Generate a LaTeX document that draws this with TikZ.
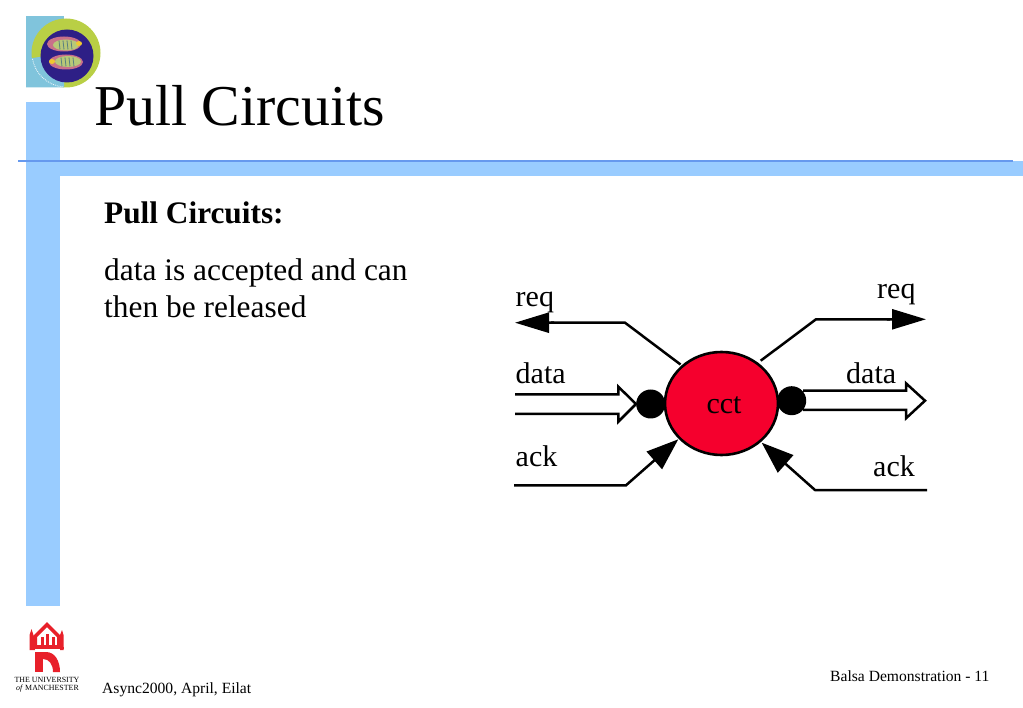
\documentclass[tikz,border=0pt]{standalone}
\usepackage{fontspec}
\setmainfont{Liberation Serif}
\usetikzlibrary{arrows.meta,shapes.geometric}
\definecolor{barblue}{HTML}{99CCFF}
\definecolor{rule}{HTML}{6699EE}
\definecolor{cctred}{HTML}{F5002D}
\definecolor{tealb}{HTML}{80C4DC}
\definecolor{ringg}{HTML}{B9CF45}
\definecolor{discb}{HTML}{2E1F86}
\definecolor{mred}{HTML}{E8202A}
\definecolor{fishg}{HTML}{B8C878}
\definecolor{fishp}{HTML}{C8708A}
\definecolor{fishy}{HTML}{F0C830}
\tikzset{
  x=1pt,y=-1pt,
  wire/.style={draw=black,line width=2.5pt,line join=miter},
  headtip/.style={-{Butt Cap[sep=2pt] Triangle[length=34pt,width=20pt]}},
  headtipack/.style={-{Triangle[length=32pt,width=23pt]}},
  lab/.style={font=\fontsize{30}{30}\selectfont,inner sep=0pt,anchor=base west},
  body/.style={font=\fontsize{31.4}{32}\selectfont,inner sep=0pt,anchor=base west},
  dot/.style={circle,fill=black,inner sep=0pt,minimum size=29pt},
  foot/.style={font=\fontsize{15.6}{16}\selectfont,inner sep=0pt,anchor=base west},
  univ/.style={font=\fontsize{7.9}{8}\selectfont,inner sep=0pt,anchor=base},
}
\begin{document}
\begin{tikzpicture}
\useasboundingbox (0,0) rectangle (1023,708);
\fill[white] (0,0) rectangle (1023,708);
% template bars
\fill[barblue] (26,102) rectangle (60,606);
\fill[barblue] (26,161) rectangle (1023,176);
\draw[rule,line width=1.3pt] (18,161) -- (1013,161);
% Eilat logo
\fill[tealb] (26,16) rectangle (64,87);
\fill[ringg] (66,53) circle (34.5);
\fill[tealb] (66,53) -- (26,59) -- (26,87.5) -- (64,87.5) -- (64,53) -- cycle;
\draw[white!85!tealb,line width=.9pt,densely dotted] (66,53) ++(170:34) arc[start angle=170,end angle=95,radius=34];
\fill[discb] (67,56) circle (26.5);
\fill[fishp] (64,44) ellipse (17 and 7.5);
\fill[fishp] (66,62) ellipse (17 and 7.5);
\fill[fishg] (66,45) ellipse (13 and 5.5);
\fill[fishg] (68,61.5) ellipse (13 and 5.5);
\foreach \sx in {59,63,67,71}{
  \draw[gray!70!teal,line width=.8pt] (\sx,40.5) -- (\sx+1,49.5);
  \draw[gray!70!teal,line width=.8pt] (\sx+2,57.5) -- (\sx+3,66.5);
}
\fill[fishy] (79,43.5) ellipse (3 and 2.5);
\fill[fishy] (52,61.5) ellipse (3 and 2.5);
% Title and text
\node[font=\fontsize{57.8}{58}\selectfont,inner sep=0pt,anchor=base west] (title) at (94,125.5) {Pull Circuits};
\node[body,font=\fontsize{29}{30}\selectfont\bfseries] (head) at (104,224) {\fontsize{31.3}{32}\selectfont Pull Circuits:};
\node[body] (l1) at (104,280.5) {data is accepted and can};
\node[body] (l2) at (104,318) {then be released};
% diagram
\node[ellipse,draw=black,line width=2.6pt,fill=cctred,minimum width=113pt,minimum height=103pt,inner sep=0pt] (cct) at (721.5,403.5) {};
\node[lab,anchor=base] (cctlab) at (724,413.5) {cct};
\coordinate (reqLa) at (625,322.7); \coordinate (reqLb) at (515,322.7);
\coordinate (reqRa) at (816,319.3); \coordinate (reqRb) at (926,319.3);
\coordinate (ackLa) at (514,485.3); \coordinate (ackLb) at (626,485.3);
\coordinate (ackRa) at (927,490); \coordinate (ackRb) at (815,490);
\coordinate (ackLend) at (678.3,439.3); \coordinate (ackRend) at (761.7,442.7);
\coordinate (reqLst) at (680.5,364.5); \coordinate (reqRst) at (760.7,360.7);
\draw[wire,headtip] (reqLst) -- (reqLa) -- (reqLb);
\draw[wire,headtip] (reqRst) -- (reqRa) -- (reqRb);
\draw[wire,headtipack] (ackLa) -- (ackLb) -- (ackLend);
\draw[wire,headtipack] (ackRa) -- (ackRb) -- (ackRend);
\node[dot] (dotL) at (650.7,404) {};
\node[dot] (dotR) at (791.7,400.7) {};
\coordinate (dLa) at (515,394.3); \coordinate (dLb) at (618.3,394.3); \coordinate (dLc) at (618.3,386.7);
\coordinate (dLd) at (618.3,421.7); \coordinate (dLe) at (618.3,414); \coordinate (dLf) at (515,414);
\draw[wire] (dLa) -- (dLb) -- (dLc) -- (dotL.west) -- (dLd) -- (dLe) -- (dLf);
\coordinate (dRa) at (803,390.7); \coordinate (dRb) at (906,390.7); \coordinate (dRc) at (906,383.3); \coordinate (dRtip) at (925,400.7);
\coordinate (dRd) at (906,418.3); \coordinate (dRe) at (906,410); \coordinate (dRf) at (803,410);
\draw[wire] (dRa) -- (dRb) -- (dRc) -- (dRtip) -- (dRd) -- (dRe) -- (dRf);
\node[lab] (t1) at (515.5,306.5) {req};
\node[lab] (t2) at (877,298.5) {req};
\node[lab] (t3) at (515.5,384) {data};
\node[lab] (t4) at (846,384) {data};
\node[lab] (t5) at (515.5,467) {ack};
\node[lab] (t6) at (873,476.5) {ack};
% Manchester logo
\fill[mred,even odd rule] (47,622) -- (61,636) -- (61,647) -- (33,647) -- (33,636) -- cycle
  (47,627) -- (37,637) -- (37,645) -- (57,645) -- (57,637) -- cycle;
\fill[mred] (40.5,637) rectangle (43.5,646);
\fill[mred] (45.5,634) rectangle (48.5,646);
\fill[mred] (51.5,637) rectangle (54.5,646);
\fill[mred] (29.5,635) -- (31.5,629) -- (33.5,635) -- (35,650) -- (29.5,650) -- cycle;
\fill[mred] (60,635) -- (62,630) -- (63.5,635) -- (63.5,650) -- (60,650) -- cycle;
\fill[mred] (29.5,647) rectangle (63.5,649);
\fill[mred] (35,652) rectangle (43,672);
\fill[mred] (43,652) -- (46,652) .. controls (55,652) and (60,661) .. (60,672) -- (53,672) .. controls (53,664) and (49,659) .. (43,659) -- cycle;
\node[univ] (um1) at (47,682.5) {THE UNIVERSITY};
\node[univ] (um2) at (47.5,690.5) {\textit{of} MANCHESTER};
\node[foot] (f1) at (102,693) {Async2000, April, Eilat};
\node[foot] (f2) at (830,681) {Balsa Demonstration - 11};
\end{tikzpicture}
\end{document}
